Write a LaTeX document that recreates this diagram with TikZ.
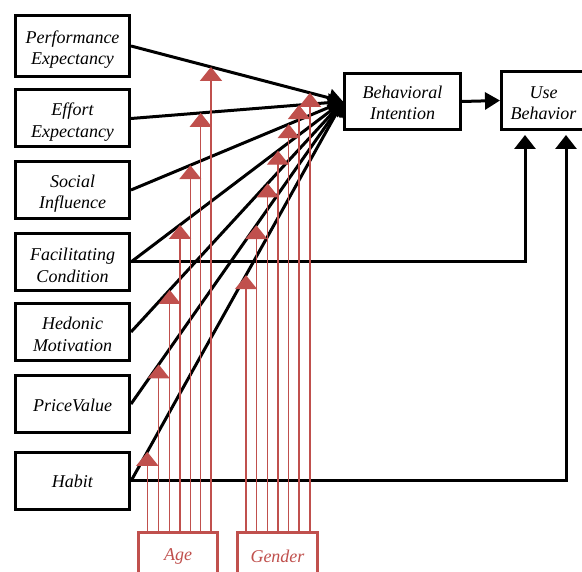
\documentclass[tikz,border=0pt]{standalone}
\usepackage{fontspec}
\setmainfont{Liberation Serif}
\usetikzlibrary{arrows.meta,intersections,calc}
\definecolor{mred}{HTML}{C0504D}
\begin{document}
\begin{tikzpicture}[x=1pt,y=-1pt,
  box/.style={draw,line width=3pt,minimum width=114pt,minimum height=57pt,inner sep=0pt},
  lbl/.style={align=center,inner sep=0pt,yshift=-3.5pt,font=\itshape\fontsize{18}{21.5}\selectfont},
  lbls/.style={lbl,yshift=2pt},
  redbox/.style={draw=mred,line width=3pt,minimum height=46pt,inner sep=0pt,text=mred,
    font=\itshape\fontsize{18}{21}\selectfont},
  blk/.style={line width=3pt,-{Triangle[width=18pt,length=14pt]}},
  blkr/.style={line width=3pt,-{Triangle[width=17pt,length=15pt]}},
  blkup/.style={line width=3pt,-{Triangle[width=21pt,length=14pt]}},
  redar/.style={draw=mred,line width=1.4pt,-{Triangle[width=22pt,length=14pt]}}]
\clip (0,0) rectangle (582,572);
\fill[white] (0,0) rectangle (582,572);
% left boxes
\node[box,minimum height=61pt,label={[lbl]center:Performance\\Expectancy}] (pe) at (72.5,46) {};
\node[box,label={[lbl]center:Effort\\Expectancy}] (ee) at (72.5,118.5) {};
\node[box,label={[lbl]center:Social\\Influence}] (si) at (72.5,190) {};
\node[box,label={[lbl]center:Facilitating\\Condition}] (fc) at (72.5,262) {};
\node[box,label={[lbl,yshift=1pt]center:Hedonic\\Motivation}] (hm) at (72.5,332) {};
\node[box,label={[lbls]center:PriceValue}] (pv) at (72.5,404) {};
\node[box,label={[lbls,yshift=1pt]center:Habit}] (hb) at (72.5,481) {};
\node[box,minimum width=116pt,minimum height=56pt,label={[lbl,yshift=2pt]center:Behavioral\\Intention}] (bi) at (402.5,101.5) {};
\node[box,minimum width=84pt,minimum height=58pt,label={[lbl,yshift=1pt]center:Use\\Behavior}] (ub) at (543.5,100.5) {};
% moderator boxes
\node[redbox,minimum width=79pt] (age) at (178,556) {Age};
\node[redbox,minimum width=80pt] (gen) at (277.5,556) {Gender};
% black connectors
\draw[blk,name path=lpe] (pe.east) -- (bi.west);
\draw[blk,name path=lee] (ee.east) -- (bi.west);
\draw[blk,name path=lsi] (si.east) -- (bi.west);
\draw[blk,name path=lfc] (fc.east) -- (bi.west);
\draw[blk,name path=lhm] (hm.east) -- (bi.west);
\draw[blk,name path=lpv] (pv.east) -- (bi.west);
\draw[blk,name path=lhb] (hb.east) -- (bi.west);
\draw[blkr] (bi.east) -- (ub.west);
\draw[blkup] (fc.east) -| ($(ub.south west)+(25,4)$);
\draw[blkup] (hb.east) -| ($(ub.south west)+(66,4)$);
% red moderator arrows
\foreach \x/\p in {147.3/lhb,158.7/lpv,169.7/lhm,180/lfc,190.3/lsi,200.7/lee,211/lpe}{
  \path[name path=vv] (\x,533) -- (\x,0);
  \draw[redar,name intersections={of=vv and \p,by=tp}] (\x,0 |- age.north) -- (tp);
}
\foreach \x/\p in {246/lhb,256.3/lpv,267.7/lhm,278/lfc,288.7/lsi,299/lee,310/lpe}{
  \path[name path=vv] (\x,533) -- (\x,0);
  \draw[redar,name intersections={of=vv and \p,by=tp}] (\x,0 |- gen.north) -- (tp);
}
\end{tikzpicture}
\end{document}
